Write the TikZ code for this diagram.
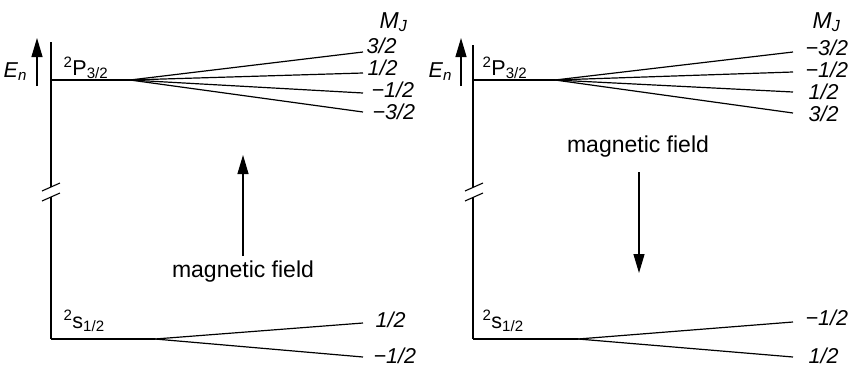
\documentclass[tikz,border=0pt]{standalone}
\usepackage{fontspec}
\setmainfont{Liberation Sans}
\usetikzlibrary{arrows.meta}

\begin{document}
\begin{tikzpicture}[x=1pt, y=-1pt, line width=1.2pt,
  lab/.style={inner sep=0pt, anchor=base west, font=\fontsize{21.5}{23}\selectfont\itshape},
  term/.style={inner sep=0pt, anchor=base west, font=\fontsize{21.5}{23}\selectfont},
  fld/.style={-{Triangle[length=19pt,width=11pt]}},
  brk/.style={line width=1.1pt}]
  \useasboundingbox (0,0) rectangle (859,370);
  % left panel: field up
  \coordinate (aT) at (51,42);
  \coordinate (aU) at (51,187);
  \coordinate (aD) at (51,197);
  \coordinate (aB) at (51,339);
  \coordinate (bU1) at (42,191);
  \coordinate (bU2) at (60,183);
  \coordinate (bD1) at (42,201);
  \coordinate (bD2) at (60,193);
  \coordinate (p0) at (51,80);
  \coordinate (p1) at (130,80);
  \coordinate (pA) at (363,52);
  \coordinate (pB) at (363,73);
  \coordinate (pC) at (363,93);
  \coordinate (pD) at (363,112);
  \coordinate (s1) at (155,339);
  \coordinate (sA) at (363,323);
  \coordinate (sB) at (363,357);
  \coordinate (eB) at (37,86);
  \coordinate (eT) at (37,38);
  \coordinate (fB) at (243,256);
  \coordinate (fT) at (243,155);
  \node[term] (en) at (3,77) {\textit{E}\textsubscript{\textit{n}}};
  \node[term, font=\fontsize{23}{25}\selectfont] (mj) at (379,28) {\textit{M}\textsubscript{\textit{J}}};
  \node[term] (tP) at (63,75) {\textsuperscript{2}P\textsubscript{3/2}};
  \node[term] (tS) at (63,328) {\textsuperscript{2}s\textsubscript{1/2}};
  \node[lab] (lA) at (366,53) {3/2};
  \node[lab] (lB) at (367,75) {1/2};
  \node[lab] (lC) at (371,97) {−1/2};
  \node[lab] (lD) at (372,119) {−3/2};
  \node[lab] (lE) at (375,327) {1/2};
  \node[lab] (lF) at (373,363) {−1/2};
  \node[term, anchor=base, font=\fontsize{23}{25}\selectfont] (mf) at (243,277) {magnetic field};
  \draw (aT) -- (aU);
  \draw (aD) -- (aB);
  \draw[brk] (bU1) -- (bU2);
  \draw[brk] (bD1) -- (bD2);
  \draw (p0) -- (p1);
  \draw (p1) -- (pA);
  \draw (p1) -- (pB);
  \draw (p1) -- (pC);
  \draw (p1) -- (pD);
  \draw (aB) -- (s1);
  \draw (s1) -- (sA);
  \draw (s1) -- (sB);
  \draw[fld] (eB) -- (eT);
  \draw[fld] (fB) -- (fT);
  % right panel: field down
  \coordinate (rT) at (473,45);
  \coordinate (rU) at (473,187);
  \coordinate (rD) at (473,197);
  \coordinate (rB) at (473,339);
  \coordinate (cU1) at (465,191);
  \coordinate (cU2) at (483,183);
  \coordinate (cD1) at (465,201);
  \coordinate (cD2) at (483,193);
  \coordinate (q0) at (473,80);
  \coordinate (q1) at (555,80);
  \coordinate (qA) at (793,52);
  \coordinate (qB) at (793,72);
  \coordinate (qC) at (793,92);
  \coordinate (qD) at (793,113);
  \coordinate (t1) at (578,339);
  \coordinate (tA) at (793,322);
  \coordinate (tB) at (793,357);
  \coordinate (gB) at (461,86);
  \coordinate (gT) at (461,38);
  \coordinate (hT) at (639,172);
  \coordinate (hB) at (639,273);
  \node[term] (en2) at (428,77) {\textit{E}\textsubscript{\textit{n}}};
  \node[term, font=\fontsize{23}{25}\selectfont] (mj2) at (812,28) {\textit{M}\textsubscript{\textit{J}}};
  \node[term] (tP2) at (482,75) {\textsuperscript{2}P\textsubscript{3/2}};
  \node[term] (tS2) at (482,328) {\textsuperscript{2}s\textsubscript{1/2}};
  \node[lab] (rA) at (805,55) {−3/2};
  \node[lab] (rB2) at (805,77) {−1/2};
  \node[lab] (rC) at (808,99) {1/2};
  \node[lab] (rD2) at (808,121) {3/2};
  \node[lab] (rE) at (805,325) {−1/2};
  \node[lab] (rF) at (808,363) {1/2};
  \node[term, anchor=base, font=\fontsize{23}{25}\selectfont] (mf2) at (638,152) {magnetic field};
  \draw (rT) -- (rU);
  \draw (rD) -- (rB);
  \draw[brk] (cU1) -- (cU2);
  \draw[brk] (cD1) -- (cD2);
  \draw (q0) -- (q1);
  \draw (q1) -- (qA);
  \draw (q1) -- (qB);
  \draw (q1) -- (qC);
  \draw (q1) -- (qD);
  \draw (rB) -- (t1);
  \draw (t1) -- (tA);
  \draw (t1) -- (tB);
  \draw[fld] (gB) -- (gT);
  \draw[fld] (hT) -- (hB);
\end{tikzpicture}
\end{document}
